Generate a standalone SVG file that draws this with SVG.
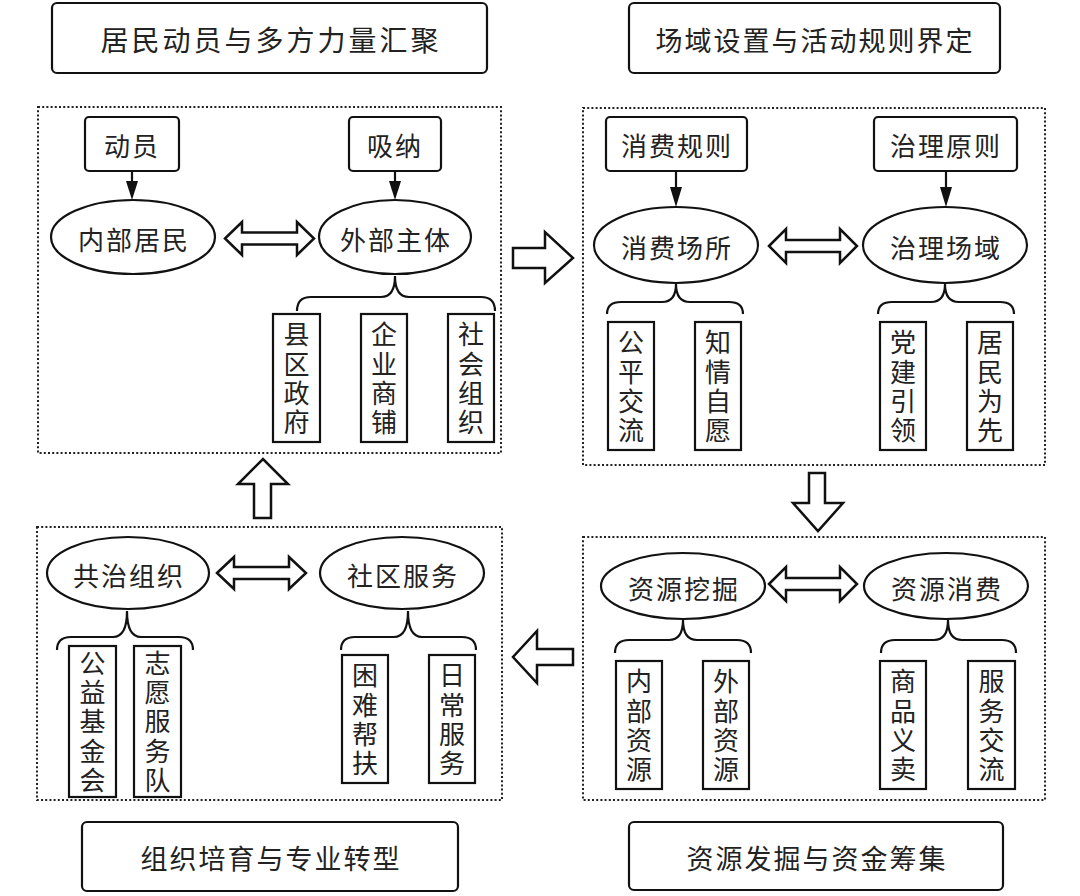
<svg xmlns="http://www.w3.org/2000/svg" width="1080" height="896" viewBox="0 0 1080 896">
<style>
text{font-family:"Noto Sans CJK SC","Noto Sans CJK JP",sans-serif;fill:#222;text-anchor:middle;dominant-baseline:central}
.title{font-size:28px;letter-spacing:3px}
.t2{font-size:27px;letter-spacing:2px}
.lbl{font-size:26px;letter-spacing:2px}
.vt{font-size:26px;letter-spacing:3.3px;writing-mode:vertical-rl}
.tbox{fill:#fff;stroke:#111;stroke-width:2.2}
.box{fill:#fff;stroke:#111;stroke-width:2.2}
.vbox{fill:#fff;stroke:#111;stroke-width:2.2}
.ell{fill:#fff;stroke:#111;stroke-width:2.2}
.dot{fill:none;stroke:#222;stroke-width:2;stroke-dasharray:2 2.2}
.ln{fill:none;stroke:#111;stroke-width:2.2}
.blk{fill:#fff;stroke:#111;stroke-width:2.5;stroke-linejoin:miter}
.tri{fill:#111}
</style>
<rect width="1080" height="896" fill="#fff"/>

<g id="titles">
<g id="title-1"><rect class="tbox" x="52" y="3" width="435" height="70" rx="5"/><text class="title" x="271" y="39">居民动员与多方力量汇聚</text></g>
<g id="title-2"><rect class="tbox" x="629" y="3" width="371" height="70" rx="5"/><text class="t2" x="815" y="39">场域设置与活动规则界定</text></g>
<g id="title-3"><rect class="tbox" x="82" y="822" width="376" height="69" rx="5"/><text class="t2" x="271" y="857">组织培育与专业转型</text></g>
<g id="title-4"><rect class="tbox" x="629" y="822" width="374" height="68" rx="5"/><text class="t2" x="817" y="857">资源发掘与资金筹集</text></g>
</g>

<g id="panels">
<rect class="dot" x="38" y="107" width="463" height="346"/>
<rect class="dot" x="583" y="108" width="462" height="357"/>
<rect class="dot" x="37" y="527" width="465" height="273"/>
<rect class="dot" x="583" y="537" width="462" height="263"/>
</g>

<g id="connectors">
<line class="ln" x1="132" y1="171" x2="132" y2="183"/><polygon class="tri" points="126,181 138,181 132,200"/>
<line class="ln" x1="395" y1="171" x2="395" y2="183"/><polygon class="tri" points="389,181 401,181 395,200"/>
<line class="ln" x1="676" y1="171" x2="676" y2="189"/><polygon class="tri" points="670,187 682,187 676,207"/>
<line class="ln" x1="946" y1="171" x2="946" y2="189"/><polygon class="tri" points="940,187 952,187 946,207"/>
<path class="blk" d="M225,238.5 L242,222 L242,232.5 L297,232.5 L297,222 L314,238.5 L297,255 L297,244.5 L242,244.5 L242,255 Z"/>
<path class="blk" d="M769,246 L786,229 L786,240 L840,240 L840,229 L857,246 L840,263 L840,252 L786,252 L786,263 Z"/>
<path class="blk" d="M217,573 L234,557 L234,567 L289,567 L289,557 L306,573 L289,589 L289,579 L234,579 L234,589 Z"/>
<path class="blk" d="M769,584 L786,567 L786,578 L840,578 L840,567 L857,584 L840,601 L840,590 L786,590 L786,601 Z"/>
<path class="ln" d="M297,311 Q297,297 311,297 L381,297 Q395,297 395,276 Q395,297 409,297 L481,297 Q495,297 495,311"/>
<path class="ln" d="M607,314 Q607,302 621,302 L662,302 Q676,302 676,284 Q676,302 690,302 L729,302 Q743,302 743,314"/>
<path class="ln" d="M878,314 Q878,302 892,302 L931,302 Q945,302 945,284 Q945,302 959,302 L1000,302 Q1014,302 1014,314"/>
<path class="ln" d="M57,650 Q57,637 71,637 L113,637 Q127,637 127,611 Q127,637 141,637 L179,637 Q193,637 193,650"/>
<path class="ln" d="M341,650 Q341,637 355,637 L394,637 Q408,637 408,611 Q408,637 422,637 L462,637 Q476,637 476,650"/>
<path class="ln" d="M615,653 Q615,640 629,640 L669,640 Q683,640 683,620 Q683,640 697,640 L737,640 Q751,640 751,653"/>
<path class="ln" d="M881,653 Q881,640 895,640 L934,640 Q948,640 948,620 Q948,640 962,640 L1002,640 Q1016,640 1016,653"/>
<path class="blk" d="M513,248 L545,248 L545,232 L573,258 L545,283 L545,268 L513,268 Z"/>
<path class="blk" d="M809,473 L825,473 L825,503 L843,503 L818,531 L793,503 L809,503 Z"/>
<path class="blk" d="M573,649 L537,649 L537,631 L513,657 L537,683 L537,665 L573,665 Z"/>
<path class="blk" d="M254,518 L254,484 L238,484 L263,459 L288,484 L271,484 L271,518 Z"/>
</g>

<g id="n-dongyuan"><rect class="box" x="85" y="117" width="94" height="54" rx="4"/><text class="lbl" x="132" y="144">动员</text></g>
<g id="n-xina"><rect class="box" x="349" y="117" width="92" height="54" rx="4"/><text class="lbl" x="395" y="144">吸纳</text></g>
<g id="n-neibujumin"><ellipse class="ell" cx="133" cy="237" rx="82" ry="37"/><text class="lbl" x="134" y="238">内部居民</text></g>
<g id="n-waibuzhuti"><ellipse class="ell" cx="395" cy="237" rx="76" ry="37"/><text class="lbl" x="396" y="238">外部主体</text></g>
<g id="n-xianquzhengfu"><rect class="vbox" x="273" y="314" width="47" height="128"/><text class="vt" x="296.5" y="380">县区政府</text></g>
<g id="n-qiyeshangpu"><rect class="vbox" x="361" y="314" width="46" height="128"/><text class="vt" x="384" y="380">企业商铺</text></g>
<g id="n-shehuizuzhi"><rect class="vbox" x="448" y="314" width="46" height="128"/><text class="vt" x="471" y="380">社会组织</text></g>

<g id="n-xiaofeiguize"><rect class="box" x="606" y="117" width="141" height="54" rx="4"/><text class="lbl" x="677" y="144">消费规则</text></g>
<g id="n-zhiliyuanze"><rect class="box" x="874" y="117" width="143" height="54" rx="4"/><text class="lbl" x="946" y="144">治理原则</text></g>
<g id="n-xiaofeichangsuo"><ellipse class="ell" cx="676" cy="245" rx="82" ry="38"/><text class="lbl" x="677" y="246">消费场所</text></g>
<g id="n-zhilichangyu"><ellipse class="ell" cx="945" cy="245" rx="82" ry="38"/><text class="lbl" x="946" y="246">治理场域</text></g>
<g id="n-gongpingjiaoliu"><rect class="vbox" x="608" y="322" width="46" height="128"/><text class="vt" x="631" y="388">公平交流</text></g>
<g id="n-zhiqingziyuan"><rect class="vbox" x="695" y="322" width="46" height="128"/><text class="vt" x="718" y="388">知情自愿</text></g>
<g id="n-dangjianyinling"><rect class="vbox" x="880" y="322" width="46" height="128"/><text class="vt" x="903" y="388">党建引领</text></g>
<g id="n-juminweixian"><rect class="vbox" x="967" y="322" width="46" height="128"/><text class="vt" x="990" y="388">居民为先</text></g>

<g id="n-gongzhizuzhi"><ellipse class="ell" cx="128" cy="573" rx="81" ry="36"/><text class="lbl" x="129" y="574">共治组织</text></g>
<g id="n-shequfuwu"><ellipse class="ell" cx="402" cy="573" rx="82" ry="36"/><text class="lbl" x="403" y="574">社区服务</text></g>
<g id="n-gongyijijinhui"><rect class="vbox" x="69" y="646" width="47" height="151"/><text class="vt" x="92.5" y="723">公益基金会</text></g>
<g id="n-zhiyuanfuwudui"><rect class="vbox" x="134" y="646" width="47" height="151"/><text class="vt" x="157.5" y="723">志愿服务队</text></g>
<g id="n-kunnanbangfu"><rect class="vbox" x="342" y="655" width="46" height="128"/><text class="vt" x="365" y="721">困难帮扶</text></g>
<g id="n-changfuwu"><rect class="vbox" x="429" y="655" width="46" height="128"/><text class="vt" x="452" y="721">日常服务</text></g>

<g id="n-ziyuanwajue"><ellipse class="ell" cx="683" cy="586" rx="82" ry="33"/><text class="lbl" x="684" y="587">资源挖掘</text></g>
<g id="n-ziyuanxiaofei"><ellipse class="ell" cx="946" cy="586" rx="82" ry="33"/><text class="lbl" x="947" y="587">资源消费</text></g>
<g id="n-neibuziyuan"><rect class="vbox" x="616" y="661" width="46" height="128"/><text class="vt" x="639" y="727">内部资源</text></g>
<g id="n-waibuziyuan"><rect class="vbox" x="703" y="661" width="46" height="128"/><text class="vt" x="726" y="727">外部资源</text></g>
<g id="n-shangpinyimai"><rect class="vbox" x="880" y="661" width="46" height="128"/><text class="vt" x="903" y="727">商品义卖</text></g>
<g id="n-fuwujiaoliu"><rect class="vbox" x="968" y="661" width="47" height="128"/><text class="vt" x="991.5" y="727">服务交流</text></g>
</svg>
